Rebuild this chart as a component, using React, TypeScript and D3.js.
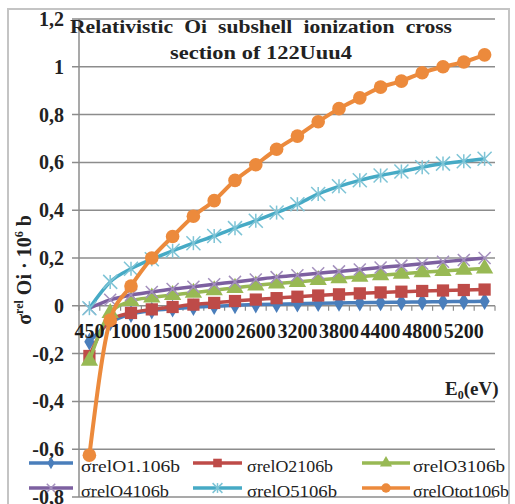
import { useEffect, useRef } from 'react';
import * as d3 from 'd3';

const categories = ['450', '700', '1000', '1250', '1500', '1750', '2000', '2300', '2600', '2900',
  '3200', '3500', '3800', '4100', '4400', '4600', '4800', '5000', '5200', '5400'];
const xTickLabels = ['450', '1000', '1500', '2000', '2600', '3200', '3800', '4400', '4800', '5200'];
const yTicks = [-0.8, -0.6, -0.4, -0.2, 0, 0.2, 0.4, 0.6, 0.8, 1, 1.2];

const o1 = [-0.15, -0.07, -0.035, -0.02, -0.012, -0.006, -0.002, 0.002, 0.005, 0.007,
  0.009, 0.011, 0.012, 0.013, 0.014, 0.015, 0.016, 0.017, 0.018, 0.019];
const o2 = [-0.21, -0.06, -0.03, -0.015, -0.005, 0.005, 0.012, 0.02, 0.026, 0.032,
  0.038, 0.043, 0.048, 0.052, 0.056, 0.059, 0.062, 0.064, 0.066, 0.068];
const o3 = [-0.23, -0.03, 0.02, 0.035, 0.045, 0.055, 0.065, 0.075, 0.085, 0.093,
  0.1, 0.108, 0.115, 0.122, 0.128, 0.134, 0.14, 0.146, 0.151, 0.156];
const o4 = [-0.01, 0.025, 0.045, 0.058, 0.07, 0.08, 0.09, 0.1, 0.11, 0.12,
  0.128, 0.136, 0.144, 0.152, 0.16, 0.168, 0.176, 0.184, 0.192, 0.2];
const o5 = [-0.01, 0.1, 0.155, 0.195, 0.23, 0.262, 0.292, 0.325, 0.356, 0.39,
  0.425, 0.468, 0.5, 0.525, 0.545, 0.562, 0.58, 0.595, 0.605, 0.615];
const otot = [-0.625, -0.06, 0.083, 0.2, 0.29, 0.375, 0.44, 0.525, 0.59, 0.655,
  0.71, 0.77, 0.825, 0.87, 0.915, 0.94, 0.975, 1.0, 1.02, 1.05];

const seriesNames = ['σrelO1.106b', 'σrelO2106b', 'σrelO3106b', 'σrelO4106b', 'σrelO5106b', 'σrelOtot106b'];
const seriesValues = [o1, o2, o3, o4, o5, otot];
const colors = ['#4a7ebb', '#be4b48', '#98b954', '#7d60a0', '#46aac5', '#ec8a3c'];
const markers = ['diamond', 'square', 'triangle', 'x', 'star', 'circle'];

const FONT = '"Liberation Serif", "Times New Roman", serif';

function drawMarker(g: any, type: string, cx: number, cy: number, color: string, scale = 1) {
  if (type === 'circle') {
    g.append('circle').attr('cx', cx).attr('cy', cy).attr('r', 6.8 * scale).attr('fill', color);
  } else if (type === 'x' || type === 'star') {
    const s = (type === 'x' ? 6 : 7) * scale;
    const light = d3.interpolateRgb(color, '#fff')(0.3);
    const segs = [[-s, -s, s, s], [-s, s, s, -s]];
    if (type === 'star') segs.push([0, -s, 0, s]);
    segs.forEach(([a, b, c, d]) => {
      g.append('line')
        .attr('x1', cx + a).attr('y1', cy + b).attr('x2', cx + c).attr('y2', cy + d)
        .attr('stroke', light).attr('stroke-width', 1.5);
    });
  } else {
    const sym = type === 'diamond' ? d3.symbolDiamond : type === 'square' ? d3.symbolSquare : d3.symbolTriangle;
    const size = type === 'diamond' ? 90 : type === 'square' ? 150 : 130;
    g.append('path')
      .attr('d', d3.symbol().type(sym).size(size * scale * scale)())
      .attr('transform', `translate(${cx},${cy})`)
      .attr('fill', color);
  }
}

export default function App() {
  const svgRef = useRef<SVGSVGElement>(null);

  useEffect(() => {
    if (!svgRef.current) return;
    const svg = d3.select(svgRef.current);
    svg.selectAll('*').remove();

    const left = 79, right = 495, top = 19, bottom = 497;

    const x = d3.scaleBand().domain(categories).range([left, right]);
    const y = d3.scaleLinear().domain([-0.8, 1.2]).range([bottom, top]);
    const cx = (c: string) => (x(c) as number) + x.bandwidth() / 2;

    // outer chart frame
    svg.append('rect')
      .attr('x', 8).attr('y', 9).attr('width', 501).attr('height', 500)
      .attr('fill', '#fff').attr('stroke', '#c4c4c4').attr('stroke-width', 2);

    // gridlines + y labels
    const fmt = (v: number) => d3.format('~g')(v).replace('−', '-').replace('.', ',');
    yTicks.forEach(v => {
      svg.append('line')
        .attr('x1', left - 7).attr('x2', right)
        .attr('y1', y(v)).attr('y2', y(v))
        .attr('stroke', '#8c8c8c').attr('stroke-width', 1.5);
      svg.append('text')
        .attr('x', 64).attr('y', y(v)).attr('dy', '0.35em')
        .attr('text-anchor', 'end')
        .attr('font-family', FONT).attr('font-weight', 'bold').attr('font-size', 20)
        .attr('fill', '#222')
        .text(fmt(v));
    });

    // vertical axis
    svg.append('line')
      .attr('x1', left).attr('x2', left).attr('y1', top).attr('y2', bottom)
      .attr('stroke', '#8c8c8c').attr('stroke-width', 1.5);

    // category tick marks on the zero line
    d3.range(categories.length + 1).forEach(i => {
      const tx = left + i * x.bandwidth();
      svg.append('line')
        .attr('x1', tx).attr('x2', tx).attr('y1', y(0)).attr('y2', y(0) + 5)
        .attr('stroke', '#8c8c8c').attr('stroke-width', 1.2);
    });

    // series
    const line = d3.line<number>()
      .x((d, i) => cx(categories[i]))
      .y(d => y(d))
      .curve(d3.curveMonotoneX);

    seriesValues.forEach((vals, si) => {
      const g = svg.append('g');
      g.append('path')
        .attr('d', line(vals))
        .attr('fill', 'none')
        .attr('stroke', colors[si])
        .attr('stroke-width', si === 5 ? 4 : 3.5);
      vals.forEach((v, i) => drawMarker(g, markers[si], cx(categories[i]), y(v), colors[si]));
    });

    // x tick labels (every second category)
    xTickLabels.forEach(lbl => {
      svg.append('text')
        .attr('x', cx(lbl)).attr('y', 338)
        .attr('text-anchor', 'middle')
        .attr('font-family', FONT).attr('font-weight', 'bold').attr('font-size', 20)
        .attr('textLength', lbl.length * 10).attr('lengthAdjust', 'spacingAndGlyphs')
        .attr('fill', '#1a1a1a')
        .text(lbl);
    });

    // title
    const title = svg.append('text')
      .attr('text-anchor', 'middle')
      .attr('font-family', FONT).attr('font-weight', 'bold').attr('font-size', 19)
      .attr('fill', '#222');
    title.append('tspan').attr('x', 261).attr('y', 33).attr('word-spacing', 5)
      .attr('textLength', 382).attr('lengthAdjust', 'spacingAndGlyphs')
      .text('Relativistic Oi subshell ionization cross');
    title.append('tspan').attr('x', 261).attr('y', 59)
      .attr('textLength', 182).attr('lengthAdjust', 'spacingAndGlyphs')
      .text('section of 122Uuu4');

    // x axis title
    const xt = svg.append('text')
      .attr('x', 445).attr('y', 395)
      .attr('font-family', FONT).attr('font-weight', 'bold').attr('font-size', 19)
      .attr('fill', '#222');
    xt.append('tspan').text('E');
    xt.append('tspan').attr('font-size', 12).attr('dy', 4).text('0');
    xt.append('tspan').attr('dy', -4).text('(eV)');

    // y axis title
    const yt = svg.append('text')
      .attr('transform', 'translate(31,270) rotate(-90)')
      .attr('text-anchor', 'middle')
      .attr('font-family', FONT).attr('font-weight', 'bold').attr('font-size', 20)
      .attr('fill', '#222');
    yt.append('tspan').text('σ');
    yt.append('tspan').attr('font-size', 12).attr('dy', -8).text('rel');
    yt.append('tspan').attr('dy', 8).text(' Oi · 10');
    yt.append('tspan').attr('font-size', 12).attr('dy', -8).text('6');
    yt.append('tspan').attr('dy', 8).text(' b');

    // legend
    const colX = [[29, 73, 81], [193, 242, 247], [362, 410, 413]];
    const rowY = [463, 488];
    const legendWidths = [99, 86, 92, 88, 90, 96];
    seriesNames.forEach((name, si) => {
      const [lx1, lx2, tx] = colX[si % 3];
      const ly = rowY[Math.floor(si / 3)];
      const g = svg.append('g');
      g.append('line')
        .attr('x1', lx1).attr('x2', lx2).attr('y1', ly).attr('y2', ly)
        .attr('stroke', colors[si]).attr('stroke-width', 3.5);
      drawMarker(g, markers[si], (lx1 + lx2) / 2, ly, colors[si], 0.7);
      g.append('text')
        .attr('x', tx).attr('y', ly).attr('dy', '0.55em')
        .attr('font-family', FONT).attr('font-size', 17)
        .attr('textLength', legendWidths[si]).attr('lengthAdjust', 'spacingAndGlyphs')
        .attr('fill', '#222')
        .text(name);
    });
  }, []);

  return (
    <svg
      ref={svgRef}
      width={515}
      height={504}
      style={{ position: 'absolute', left: 0, top: 0, background: '#fff' }}
    />
  );
}
